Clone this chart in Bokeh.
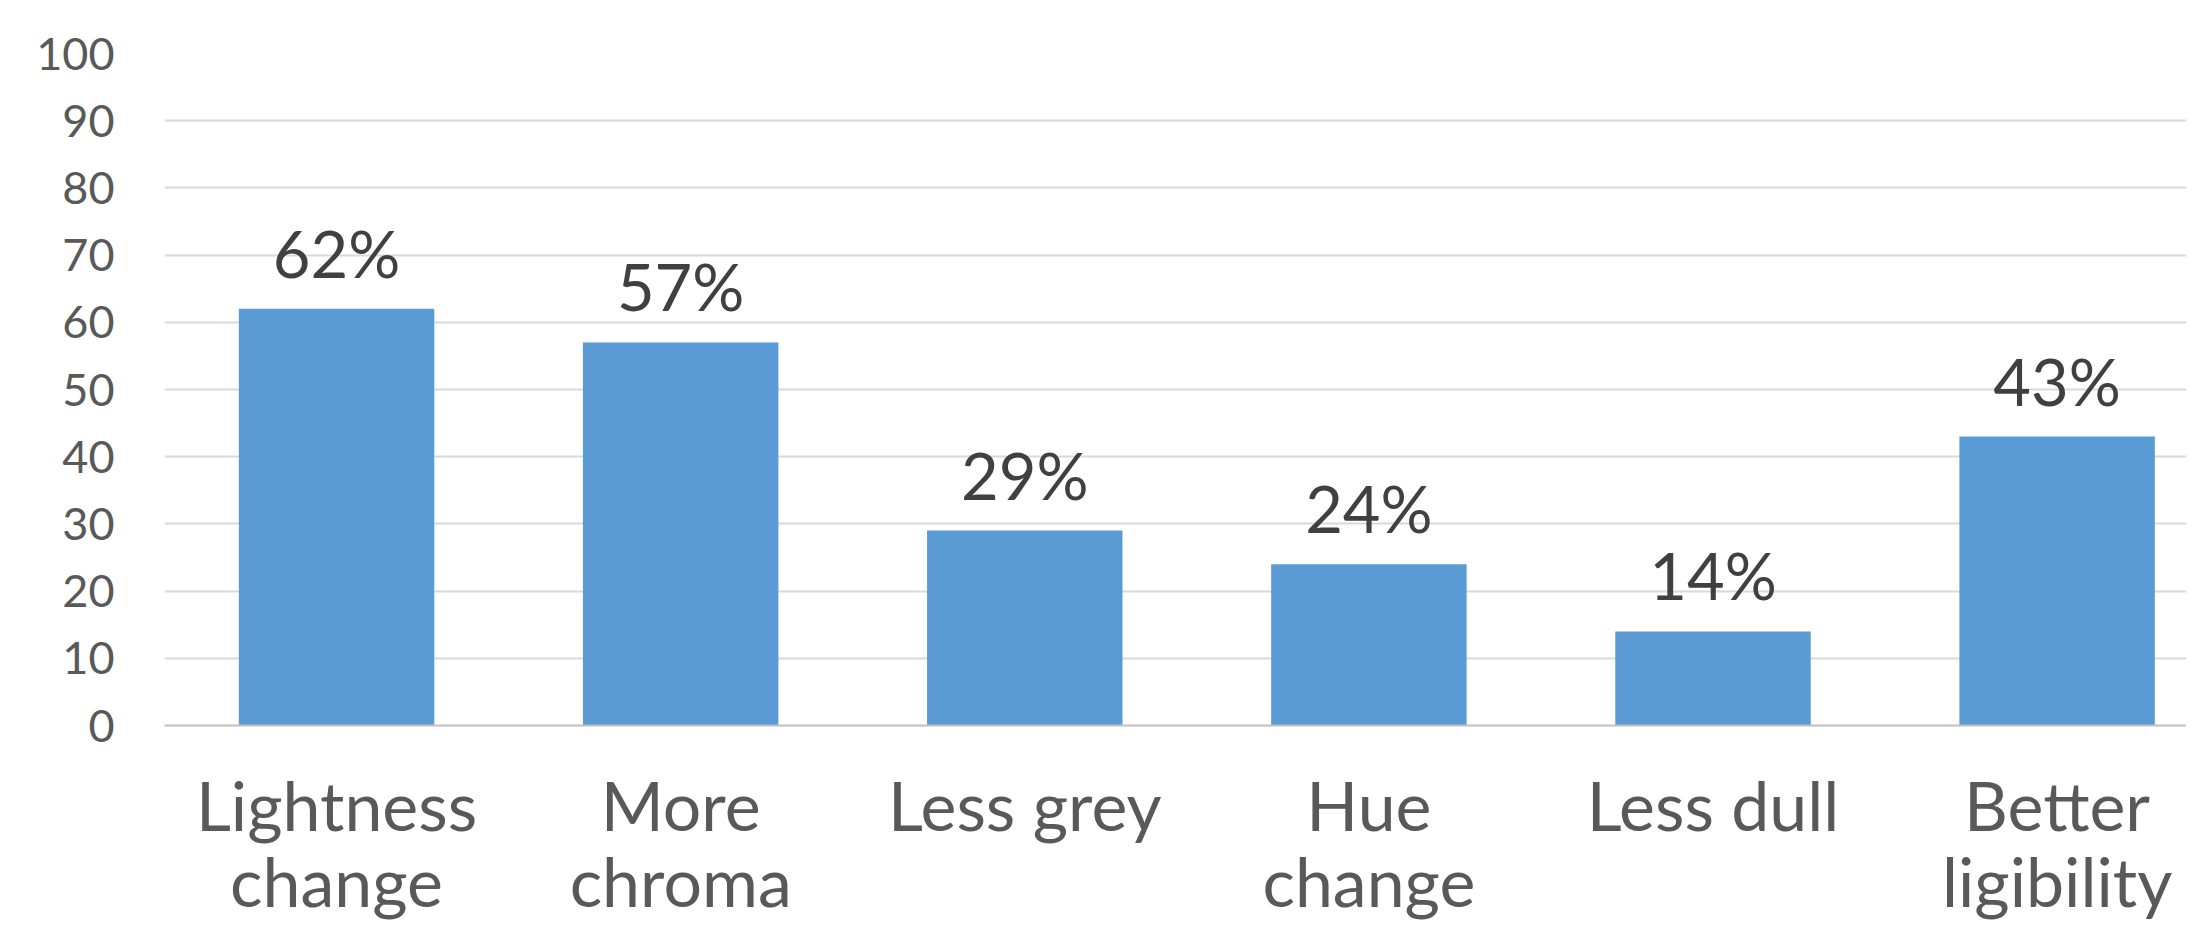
from bokeh.plotting import figure
from bokeh.models import Range1d, FixedTicker, ColumnDataSource, LabelSet
from bokeh.core.properties import value
from bokeh.embed import file_html
from bokeh.resources import INLINE

categories = ["Lightness\nchange", "More\nchroma", "Less grey", "Hue\nchange", "Less dull", "Better\nligibility"]
values = [62, 57, 29, 24, 14, 43]
labels = ["62%", "57%", "29%", "24%", "14%", "43%"]
y_ticks = [0, 10, 20, 30, 40, 50, 60, 70, 80, 90, 100]

xs = [i + 0.5 for i in range(len(categories))]
src = ColumnDataSource(dict(x=xs, top=values, lab=labels))

FONT = "Lato"

p = figure(width=2186, height=927, output_backend="svg", toolbar_location=None,
           x_range=Range1d(0, 5.876), y_range=Range1d(0, 100),
           min_border_left=164, min_border_right=0, min_border_top=53, min_border_bottom=202)
p.outline_line_color = None
p.background_fill_color = "white"
p.border_fill_color = "white"

p.vbar(x="x", top="top", width=0.568, source=src, fill_color="#5B9BD5", line_color=None)

# value labels above bars
p.add_layout(LabelSet(x="x", y="top", text="lab", source=src, y_offset=31,
                      text_align="center", text_baseline="alphabetic",
                      text_font=value(FONT), text_font_size=value("65px"), text_color="#404040"))

p.xgrid.grid_line_color = None
p.ygrid.grid_line_color = "#D9D9D9"
p.ygrid.grid_line_width = 2
p.yaxis.ticker = FixedTicker(ticks=y_ticks)
p.yaxis.axis_line_color = None
p.yaxis.major_tick_line_color = None
p.yaxis.minor_tick_line_color = None
p.yaxis.major_label_standoff = 44
p.yaxis.major_label_text_font = FONT
p.yaxis.major_label_text_font_size = "45px"
p.yaxis.major_label_text_color = "#595959"

p.xaxis.ticker = FixedTicker(ticks=xs)
p.xaxis.major_label_overrides = {x: c for x, c in zip(xs, categories)}
p.xaxis.axis_line_color = "#BFBFBF"
p.xaxis.axis_line_width = 2
p.xaxis.major_tick_line_color = None
p.xaxis.minor_tick_line_color = None
p.xaxis.major_label_standoff = 32
p.xaxis.major_label_text_font = FONT
p.xaxis.major_label_text_font_size = "68px"
p.xaxis.major_label_text_line_height = 0.95
p.xaxis.major_label_text_color = "#595959"

open("out.html", "w").write(file_html(p, INLINE))
